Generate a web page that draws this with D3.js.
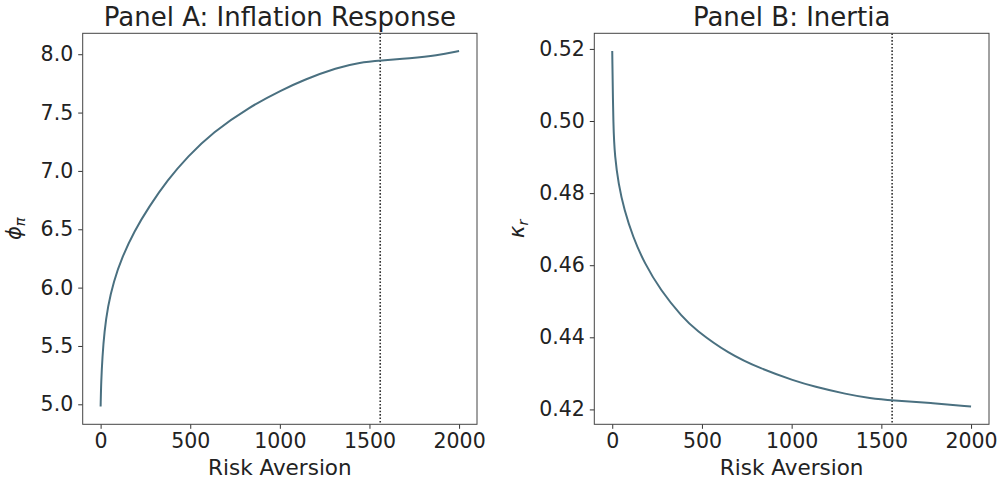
<!DOCTYPE html>
<html>
<head>
<meta charset="utf-8">
<script src="https://cdn.jsdelivr.net/npm/d3@7"></script>
<style>
  body { margin: 0; background: #fff; }
  svg text { font-family: "DejaVu Sans", sans-serif; fill: #222; }
</style>
</head>
<body>
<div id="chart"></div>
<script>
// Data
var riskAversionA = [0, 3, 10, 21, 40, 72, 121, 186, 270, 374, 486, 625, 827, 1013, 1133, 1319, 1448, 1560, 1727, 1876, 2000];
var phiPi = [4.981, 5.194, 5.408, 5.622, 5.837, 6.051, 6.265, 6.479, 6.694, 6.923, 7.124, 7.330, 7.546, 7.694, 7.78, 7.885, 7.93, 7.945, 7.966, 7.99, 8.027];

var riskAversionB = [0, 6, 15, 34, 67, 115, 180, 269, 392, 462, 646, 832, 1018, 1121, 1307, 1437, 1559, 1773, 2000];
var kappaR = [0.5194, 0.4975, 0.4901, 0.4827, 0.4753, 0.4679, 0.4605, 0.4531, 0.4455, 0.4422, 0.4355, 0.4312, 0.4279, 0.4264, 0.4242, 0.4231, 0.4225, 0.4218, 0.4208];

var xTicks = [0, 500, 1000, 1500, 2000];
var phiTicks = [5.0, 5.5, 6.0, 6.5, 7.0, 7.5, 8.0];
var kappaTicks = [0.42, 0.44, 0.46, 0.48, 0.50, 0.52];
var markerX = 1560;

var width = 999;
var height = 485;
var LINE_COLOR = '#4a7080';
var TICK_SIZE = 20.5;
var plotTop = 33.3, plotBottom = 424.3;

var svg = d3.select('#chart').append('svg')
    .attr('width', width)
    .attr('height', height);

var panels = [
    { title: 'Panel A: Inflation Response', x: riskAversionA, y: phiPi, ticks: phiTicks,
      fmt: d3.format('.1f'), left: 82.7, right: 477, sym: '\u03D5', sub: '\u03C0', labelX: 21 },
    { title: 'Panel B: Inertia', x: riskAversionB, y: kappaR, ticks: kappaTicks,
      fmt: d3.format('.2f'), left: 594.3, right: 989, sym: '\u03BA', sub: 'r', labelX: 524 }
];

panels.forEach(function (p) {
    // matplotlib style 5% margins
    var xExt = d3.extent(p.x), yExt = d3.extent(p.y);
    var xPad = (xExt[1] - xExt[0]) * 0.05, yPad = (yExt[1] - yExt[0]) * 0.05;
    var x = d3.scaleLinear().domain([xExt[0] - xPad, xExt[1] + xPad]).range([p.left, p.right]);
    var y = d3.scaleLinear().domain([yExt[0] - yPad, yExt[1] + yPad]).range([plotBottom, plotTop]);

    var g = svg.append('g');

    // vertical marker
    g.append('line')
        .attr('x1', x(markerX)).attr('x2', x(markerX))
        .attr('y1', plotTop).attr('y2', plotBottom)
        .attr('stroke', '#333')
        .attr('stroke-width', 1.6)
        .attr('stroke-dasharray', '1.6,1.8');

    // basis spline smooths the hand-read points
    var line = d3.line()
        .x(function (d, i) { return x(p.x[i]); })
        .y(function (d) { return y(d); })
        .curve(d3.curveBasis);

    g.append('path')
        .datum(p.y)
        .attr('d', line)
        .attr('fill', 'none')
        .attr('stroke', LINE_COLOR)
        .attr('stroke-width', 2);

    // axes
    var xAxis = g.append('g')
        .attr('transform', 'translate(0,' + plotBottom + ')')
        .call(d3.axisBottom(x).tickValues(xTicks).tickSize(4.5).tickPadding(5).tickFormat(d3.format('d')));
    var yAxis = g.append('g')
        .attr('transform', 'translate(' + p.left + ',0)')
        .call(d3.axisLeft(y).tickValues(p.ticks).tickSize(4.5).tickPadding(5).tickFormat(p.fmt));

    [xAxis, yAxis].forEach(function (a) {
        a.select('.domain').remove();
        a.selectAll('.tick line').attr('stroke', '#333').attr('stroke-width', 1);
        a.selectAll('.tick text').attr('font-size', TICK_SIZE).attr('fill', '#222')
            .attr('font-family', '"DejaVu Sans", sans-serif');
    });

    // frame
    g.append('rect')
        .attr('x', p.left).attr('y', plotTop)
        .attr('width', p.right - p.left).attr('height', plotBottom - plotTop)
        .attr('fill', 'none')
        .attr('stroke', '#444')
        .attr('stroke-width', 1);

    // title
    g.append('text')
        .attr('x', (p.left + p.right) / 2)
        .attr('y', 26)
        .attr('text-anchor', 'middle')
        .attr('font-size', 26)
        .text(p.title);

    // x label
    g.append('text')
        .attr('x', (p.left + p.right) / 2)
        .attr('y', 475)
        .attr('text-anchor', 'middle')
        .attr('font-size', 21.5)
        .text('Risk Aversion');

    // y label (math style)
    var yl = g.append('text')
        .attr('transform', 'translate(' + p.labelX + ',' + (plotTop + plotBottom) / 2 + ')rotate(-90)')
        .attr('text-anchor', 'middle')
        .attr('font-size', 21)
        .attr('font-style', 'italic');
    yl.append('tspan').text(p.sym);
    yl.append('tspan').attr('font-size', 14.5).attr('dy', 4).text(p.sub);
});
</script>
</body>
</html>
